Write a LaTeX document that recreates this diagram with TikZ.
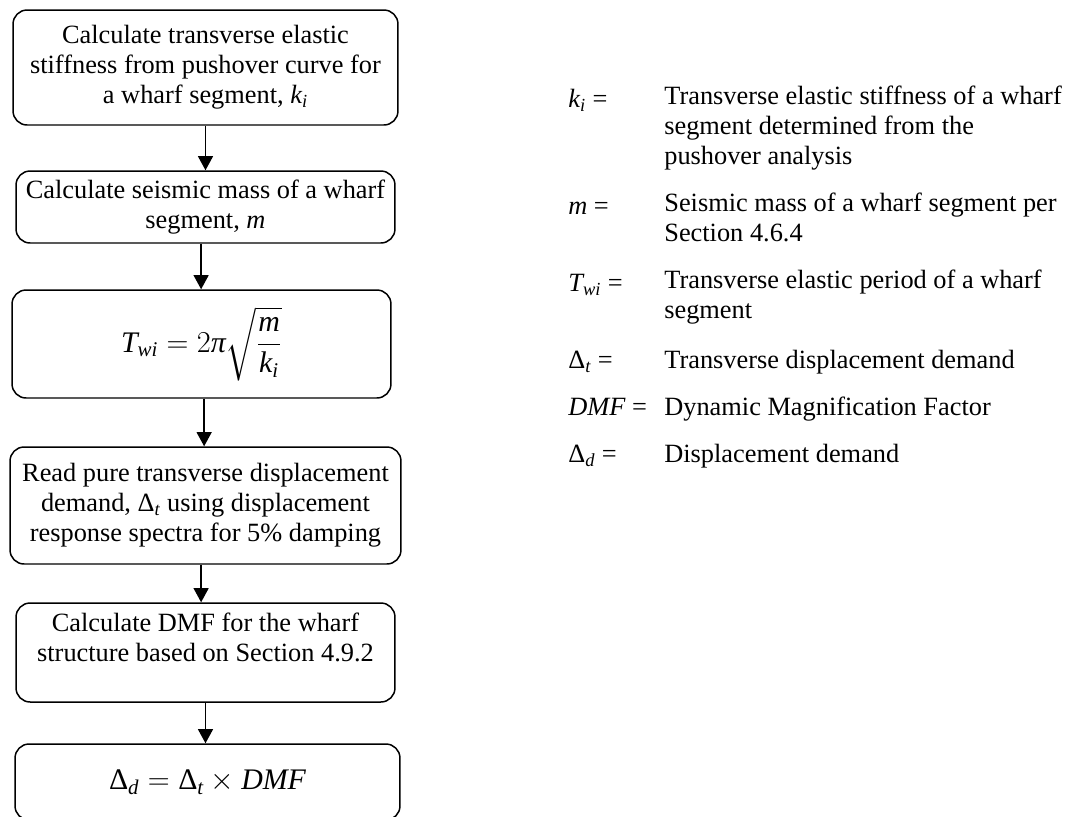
\documentclass[tikz,border=0pt]{standalone}
\usepackage{amsmath}
\usepackage{fontspec}
\setmainfont{Liberation Serif}
\usetikzlibrary{arrows.meta}
\newcommand{\boxfont}{\fontsize{15}{17}\selectfont}
\newcommand{\eqnfont}{\fontsize{17}{20}\selectfont}
\newcommand{\keyfont}{\fontsize{15}{17}\selectfont}
\newcommand{\mi}[1]{\text{\itshape #1}}
\newcommand{\mup}[1]{\text{\upshape #1}}

\begin{document}
\begin{tikzpicture}[x=0.02cm,y=-0.02cm,
    stepbox/.style={draw,line width=0.85pt,rounded corners=8pt,align=center,inner sep=0pt,font=\boxfont},
    flow/.style={-{Triangle[width=8.5pt,length=8pt]},line width=0.75pt},
    sym/.style={anchor=north west,inner sep=0pt,font=\keyfont,execute at begin node=\strut},
    defn/.style={anchor=north west,inner sep=0pt,align=left,font=\keyfont,execute at begin node=\strut}]
    \useasboundingbox (0,0) rectangle (1082,816);
    % flowchart
    \node[stepbox,minimum width=7.7cm,minimum height=2.3cm] (stiff) at (205.5,67.5)
        {Calculate transverse elastic\\ stiffness from pushover curve for\\ a wharf segment, $\mi{k}_{\mi{i}}$};
    \node[stepbox,minimum width=7.58cm,minimum height=1.44cm] (mass) at (205.5,207)
        {Calculate seismic mass of a wharf\\ segment, \textit{m}};
    \node[stepbox,minimum width=7.58cm,minimum height=2.16cm,font=\eqnfont] (period) at (201.5,344)
        {$\displaystyle \mi{T}_{\mi{wi}}=2\mi{π}\sqrt{\frac{\mi{m}}{\mi{k}_{\mi{i}}}}$};
    \node[stepbox,minimum width=7.82cm,minimum height=2.34cm] (spectra) at (205.5,505.5)
        {Read pure transverse displacement\\ demand, $\mup{Δ}_{\mi{t}}$ using displacement\\ response spectra for 5\% damping};
    \node[stepbox,minimum width=7.58cm,minimum height=1.98cm] (dmf) at (205.5,652.5)
        {Calculate DMF for the wharf\\ structure based on Section 4.9.2\\ \mbox{}};
    \node[stepbox,minimum width=7.7cm,minimum height=1.52cm,font=\eqnfont] (demand) at (207.5,782)
        {$\mup{Δ}_{\mi{d}}=\mup{Δ}_{\mi{t}}\times\mi{DMF}$};
    \draw[flow] (stiff.south) -- (stiff.south |- mass.north);
    \draw[flow] ([xshift=-2.5]mass.south) -- ([xshift=-2.5]mass.south |- period.north);
    \draw[flow] ([xshift=1.5]period.south) -- ([xshift=1.5]period.south |- spectra.north);
    \draw[flow] ([xshift=-2.5]spectra.south) -- ([xshift=-2.5]spectra.south |- dmf.north);
    \draw[flow] (dmf.south) -- (dmf.south |- demand.north);
    % legend
    \node[sym] (ksym) at (568,86) {$\mi{k}_{\mi{i}}$ =};
    \node[defn] (kdef) at (664,86) {Transverse elastic stiffness of a wharf\\ segment determined from the\\ pushover analysis};
    \node[sym] (msym) at (568,193) {\textit{m} =};
    \node[defn] (mdef) at (664,193) {Seismic mass of a wharf segment per\\ Section 4.6.4};
    \node[sym] (tsym) at (568,270) {$\mi{T}_{\mi{wi}}$ =};
    \node[defn] (tdef) at (664,270) {Transverse elastic period of a wharf\\ segment};
    \node[sym] (dtsym) at (568,347) {$\mup{Δ}_{\mi{t}}$ =};
    \node[defn] (dtdef) at (664,347) {Transverse displacement demand};
    \node[sym] (fsym) at (568,394) {\textit{DMF} =};
    \node[defn] (fdef) at (664,394) {Dynamic Magnification Factor};
    \node[sym] (ddsym) at (568,441) {$\mup{Δ}_{\mi{d}}$ =};
    \node[defn] (dddef) at (664,441) {Displacement demand};
\end{tikzpicture}
\end{document}
